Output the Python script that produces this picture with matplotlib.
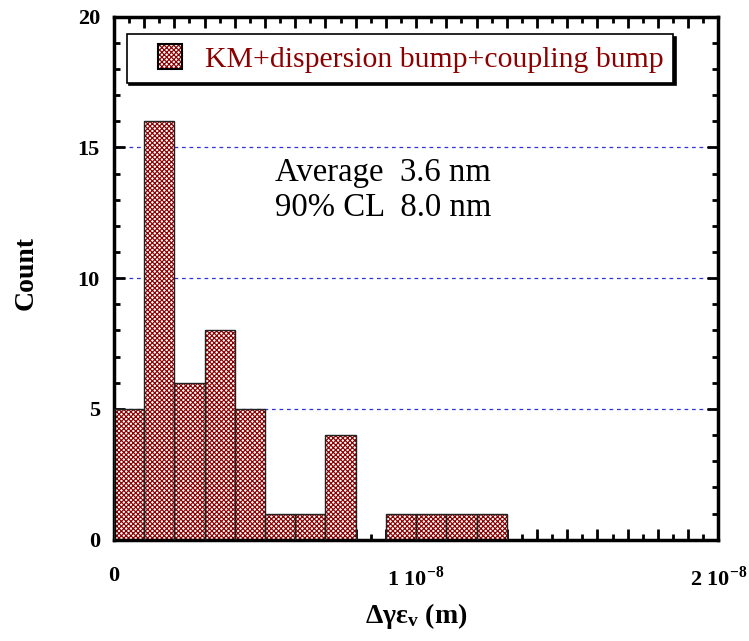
import numpy as np
import matplotlib
matplotlib.use("Agg")
import matplotlib.pyplot as plt
from matplotlib.patches import Rectangle
from matplotlib.container import BarContainer
from matplotlib.legend_handler import HandlerPatch
from matplotlib.ticker import MultipleLocator, FixedLocator

plt.rcParams["font.family"] = ["Liberation Serif", "DejaVu Serif"]
plt.rcParams["mathtext.fontset"] = "custom"
plt.rcParams["mathtext.rm"] = "Liberation Serif"
plt.rcParams["mathtext.bf"] = "Liberation Serif:bold"
plt.rcParams["hatch.linewidth"] = 0.85

# histogram data: bin left edges (m) and counts
bin_edges = np.arange(0, 14) * 1e-9
counts = [5, 16, 6, 8, 5, 1, 1, 4, 0, 1, 1, 1, 1]
bin_width = 1e-9
legend_label = "KM+dispersion bump+coupling bump"
xtick_vals = [0, 1e-8, 2e-8]
xtick_labels = ["0", r"1 10$^{\mathbf{-8}}$", r"2 10$^{\mathbf{-8}}$"]
ytick_vals = [0, 5, 10, 15, 20]

dark_red = "#8b0000"
hatch = "x" * 7

fig = plt.figure(figsize=(7.49, 6.41), dpi=100)
ax = fig.add_axes([0.152, 0.158, 0.807, 0.816])

ax.bar(bin_edges[:-1], counts, width=bin_width, align="edge",
       facecolor="white", edgecolor=dark_red, hatch=hatch, linewidth=0,
       label=legend_label, zorder=2)
# outlines on top of hatch
ax.bar(bin_edges[:-1], counts, width=bin_width, align="edge",
       facecolor="none", edgecolor="#222222", linewidth=1.0, zorder=3)

for yv in [5, 10, 15]:
    ax.axhline(yv, color="#3333dd", linestyle=(0, (3, 3)), linewidth=0.9, zorder=1)

ax.set_xlim(0, 2e-8)
ax.set_ylim(0, 20)

ax.xaxis.set_major_locator(MultipleLocator(1e-9))
ax.xaxis.set_minor_locator(MultipleLocator(0.5e-9))
ax.yaxis.set_major_locator(FixedLocator(ytick_vals))
ax.yaxis.set_minor_locator(MultipleLocator(1))

labels = []
for v in ax.get_xticks():
    match = [lab for tv, lab in zip(xtick_vals, xtick_labels) if abs(tv - v) < 1e-12]
    labels.append(match[0] if match else "")
ax.set_xticks(ax.get_xticks())
ax.set_xticklabels(labels)
ax.set_xlim(0, 2e-8)

ax.tick_params(which="both", direction="in", top=True, right=True, width=2)
ax.tick_params(which="major", length=8, labelsize=16)
ax.tick_params(which="minor", length=4)
ax.tick_params(axis="x", pad=19)
ax.tick_params(axis="y", pad=10)
for lab in ax.get_xticklabels() + ax.get_yticklabels():
    lab.set_fontweight("bold")

for sp in ax.spines.values():
    sp.set_linewidth(2.5)

ax.set_ylabel("Count", fontsize=20, fontweight="bold")
ax.yaxis.set_label_coords(-0.125, 0.51)
ax.set_xlabel(r"$\mathbf{\Delta\gamma\varepsilon_{v}}$ (m)", fontsize=20,
              fontweight="bold")
ax.xaxis.set_label_coords(0.5, -0.118)

ax.text(0.266, 0.668, "Average  3.6 nm\n90% CL  8.0 nm", transform=ax.transAxes,
        fontsize=23.6, linespacing=1.2, va="center", ha="left")


class SquareHandler(HandlerPatch):
    # hatched square with a black outline, pushed to the right of the handle box
    def create_artists(self, legend, orig_handle, xdescent, ydescent,
                       width, height, fontsize, trans):
        side = height
        x0 = width - side - xdescent
        first = orig_handle.patches[0]
        fill = Rectangle((x0, -ydescent), side, side, facecolor="white",
                         edgecolor=first.get_edgecolor(), hatch=first.get_hatch(),
                         linewidth=0, transform=trans)
        edge = Rectangle((x0, -ydescent), side, side, facecolor="none",
                         edgecolor="black", linewidth=1.5, transform=trans)
        return [fill, edge]


leg = ax.legend(loc="upper left", bbox_to_anchor=(0.021, 0.966), fontsize=21.4,
                frameon=True, fancybox=False, shadow={"color": "black", "alpha": 1},
                edgecolor="black", handlelength=1.55, handleheight=0.9,
                borderpad=0.33, handletextpad=0.75, borderaxespad=0,
                handler_map={BarContainer: SquareHandler()})
leg.get_frame().set_linewidth(1.2)
for t in leg.get_texts():
    t.set_color(dark_red)

fig.savefig("out.png", dpi=100)
